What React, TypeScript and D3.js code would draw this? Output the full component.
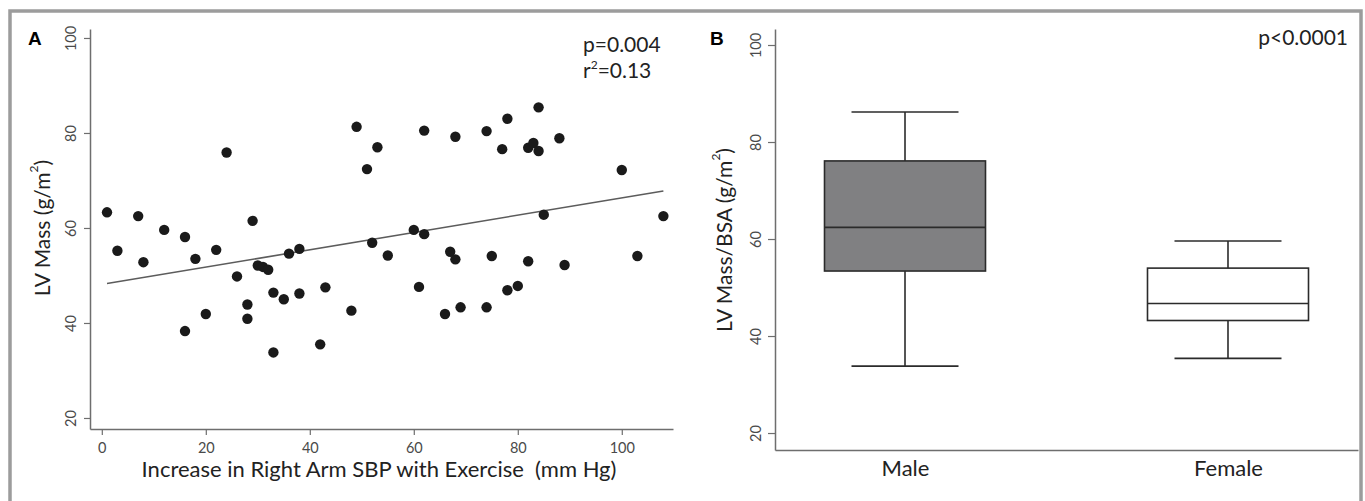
import React, { useEffect, useRef } from "react"
import * as d3 from "d3"

// panel A: scatter of LV mass against rise in right arm SBP
const sbpRise = [1, 3, 7, 8, 12, 16, 16, 18, 20, 22, 24, 26, 28, 28, 29, 30, 31, 32, 33, 33, 35, 36, 38, 38, 42, 43, 48, 49, 51, 52, 53, 55, 60, 61, 62, 62, 66, 67, 68, 68, 69, 74, 74, 75, 77, 78, 78, 80, 82, 82, 83, 84, 84, 85, 88, 89, 100, 103, 108]
const lvMass = [63.3, 55.2, 62.5, 52.8, 59.6, 58.1, 38.3, 53.5, 41.9, 55.4, 75.9, 49.8, 43.9, 40.9, 61.5, 52.1, 51.8, 51.2, 46.4, 33.8, 45.0, 54.6, 55.6, 46.2, 35.5, 47.5, 42.6, 81.3, 72.4, 56.9, 77.0, 54.2, 59.6, 47.6, 80.5, 58.7, 41.9, 55.0, 53.4, 79.2, 43.3, 80.4, 43.3, 54.1, 76.6, 83.0, 46.9, 47.8, 76.9, 53.0, 77.9, 85.4, 76.2, 62.8, 78.9, 52.2, 72.2, 54.1, 62.5]
const fitX = [1, 108]
const fitY = [48.3, 67.8]
const xTicksA = [0, 20, 40, 60, 80, 100]
const yTicks = [20, 40, 60, 80, 100]

// panel B: box plots by sex
const groups = ["Male", "Female"]
const whiskerLow = [33.8, 35.4]
const q1 = [53.4, 43.2]
const median = [62.4, 46.7]
const q3 = [76.1, 54.0]
const whiskerHigh = [86.2, 59.6]
const boxFill = ["#808082", "#ffffff"]

const FONT = "Lato, 'Open Sans', sans-serif"

const App = () => {
  const ref = useRef<SVGSVGElement>(null)

  useEffect(() => {
    const svg = d3.select(ref.current)
    svg.selectAll("*").remove()

    // outer frame
    svg.append("rect")
      .attr("x", 10).attr("y", 11)
      .attr("width", 1351).attr("height", 540)
      .attr("fill", "none").attr("stroke", "#9c9c9c").attr("stroke-width", 3.5)

    const styleAxis = (g: any, rotate: boolean) => {
      g.select(".domain").attr("stroke", "#6e6e6e").attr("stroke-width", 1.5)
      g.selectAll(".tick line").attr("stroke", "#6e6e6e").attr("stroke-width", 1.2)
      g.selectAll(".tick text").attr("fill", "#4a4a4a").attr("font-family", FONT).attr("font-size", 14.5)
      if (rotate) {
        g.selectAll(".tick text")
          .attr("x", null).attr("dy", null)
          .attr("transform", "translate(-20,0) rotate(-90)")
          .attr("text-anchor", "middle")
          .attr("dominant-baseline", "central")
      }
    }

    // ---------- panel A ----------
    const xA = d3.scaleLinear().domain([-2.27, 109.85]).range([90, 673])
    const yA = d3.scaleLinear().domain([17.68, 101.89]).range([429, 29])

    const gxA = svg.append("g").attr("transform", "translate(0,429)")
      .call(d3.axisBottom(xA).tickValues(xTicksA).tickSize(6).tickSizeOuter(0))
    styleAxis(gxA, false)
    gxA.selectAll(".tick text").attr("dy", "1.05em")

    const gyA = svg.append("g").attr("transform", "translate(90,0)")
      .call(d3.axisLeft(yA).tickValues(yTicks).tickSize(6).tickSizeOuter(0))
    styleAxis(gyA, true)

    const line = d3.line<number>().x((d, i) => xA(fitX[i])).y((d) => yA(d))
    svg.append("path").datum(fitY)
      .attr("d", line)
      .attr("fill", "none").attr("stroke", "#5c5c5c").attr("stroke-width", 1.6)

    svg.append("g").selectAll("circle")
      .data(sbpRise)
      .enter()
      .append("circle")
      .attr("cx", (d) => xA(d))
      .attr("cy", (d, i) => yA(lvMass[i]))
      .attr("r", 5.2)
      .attr("fill", "#1a1a1a")

    svg.append("text").attr("x", 28).attr("y", 45)
      .attr("font-family", "'Liberation Sans', Arial, sans-serif").attr("font-weight", "bold")
      .attr("font-size", 19).text("A")

    const stats = svg.append("g").attr("font-family", FONT).attr("font-size", 21).attr("fill", "#222")
    stats.append("text").attr("x", 583).attr("y", 52).text("p=0.004")
    const r2 = stats.append("text").attr("x", 583).attr("y", 78)
    r2.append("tspan").text("r")
    r2.append("tspan").attr("dy", -9).attr("font-size", 12).text("2")
    r2.append("tspan").attr("dy", 9).text("=0.13")

    svg.append("text").attr("x", 379).attr("y", 477)
      .attr("text-anchor", "middle").attr("font-family", FONT).attr("font-size", 22).attr("fill", "#222")
      .text("Increase in Right Arm SBP with Exercise\u00a0 (mm Hg)")

    const yTitleA = svg.append("text")
      .attr("transform", "translate(41,228) rotate(-90)")
      .attr("text-anchor", "middle").attr("dominant-baseline", "central")
      .attr("font-family", FONT).attr("font-size", 21).attr("fill", "#222")
    yTitleA.append("tspan").text("LV Mass (g/m")
    yTitleA.append("tspan").attr("dy", -8).attr("font-size", 12).text("2")
    yTitleA.append("tspan").attr("dy", 8).text(")")

    // ---------- panel B ----------
    const xB = d3.scalePoint().domain(groups).range([775, 1358]).padding(0.4025)
    const yB = d3.scaleLinear().domain([16.5, 103.3]).range([450, 29])

    const gxB = svg.append("g").attr("transform", "translate(0,450)")
      .call(d3.axisBottom(xB).tickSize(0).tickSizeOuter(0))
    styleAxis(gxB, false)
    gxB.selectAll(".tick text").attr("font-size", 22).attr("fill", "#222").attr("dy", "1.05em")

    const gyB = svg.append("g").attr("transform", "translate(775,0)")
      .call(d3.axisLeft(yB).tickValues(yTicks).tickSize(7).tickSizeOuter(0))
    styleAxis(gyB, true)

    const boxW = 161
    const capW = 107
    const boxes = svg.append("g").selectAll("g").data(groups).enter().append("g")
    boxes.append("line")
      .attr("x1", (d) => xB(d)!).attr("x2", (d) => xB(d)!)
      .attr("y1", (d, i) => yB(whiskerLow[i])).attr("y2", (d, i) => yB(whiskerHigh[i]))
      .attr("stroke", "#2b2b2b").attr("stroke-width", 1.6)
    boxes.append("line")
      .attr("x1", (d) => xB(d)! - capW / 2).attr("x2", (d) => xB(d)! + capW / 2)
      .attr("y1", (d, i) => yB(whiskerHigh[i])).attr("y2", (d, i) => yB(whiskerHigh[i]))
      .attr("stroke", "#2b2b2b").attr("stroke-width", 1.6)
    boxes.append("line")
      .attr("x1", (d) => xB(d)! - capW / 2).attr("x2", (d) => xB(d)! + capW / 2)
      .attr("y1", (d, i) => yB(whiskerLow[i])).attr("y2", (d, i) => yB(whiskerLow[i]))
      .attr("stroke", "#2b2b2b").attr("stroke-width", 1.6)
    boxes.append("rect")
      .attr("x", (d) => xB(d)! - boxW / 2).attr("width", boxW)
      .attr("y", (d, i) => yB(q3[i])).attr("height", (d, i) => yB(q1[i]) - yB(q3[i]))
      .attr("fill", (d, i) => boxFill[i]).attr("stroke", "#2b2b2b").attr("stroke-width", 1.6)
    boxes.append("line")
      .attr("x1", (d) => xB(d)! - boxW / 2).attr("x2", (d) => xB(d)! + boxW / 2)
      .attr("y1", (d, i) => yB(median[i])).attr("y2", (d, i) => yB(median[i]))
      .attr("stroke", "#2b2b2b").attr("stroke-width", 1.6)

    svg.append("text").attr("x", 710).attr("y", 45)
      .attr("font-family", "'Liberation Sans', Arial, sans-serif").attr("font-weight", "bold")
      .attr("font-size", 19).text("B")

    svg.append("text").attr("x", 1348).attr("y", 45).attr("text-anchor", "end")
      .attr("font-family", FONT).attr("font-size", 21).attr("fill", "#222").text("p<0.0001")

    const yTitleB = svg.append("text")
      .attr("transform", "translate(723,240) rotate(-90)")
      .attr("text-anchor", "middle").attr("dominant-baseline", "central")
      .attr("font-family", FONT).attr("font-size", 21).attr("fill", "#222")
    yTitleB.append("tspan").text("LV Mass/BSA (g/m")
    yTitleB.append("tspan").attr("dy", -8).attr("font-size", 12).text("2")
    yTitleB.append("tspan").attr("dy", 8).text(")")
  }, [])

  return (
    <svg
      ref={ref}
      width={1365}
      height={501}
      style={{ position: "absolute", left: 0, top: 0, background: "#fff" }}
    />
  )
}

export default App
